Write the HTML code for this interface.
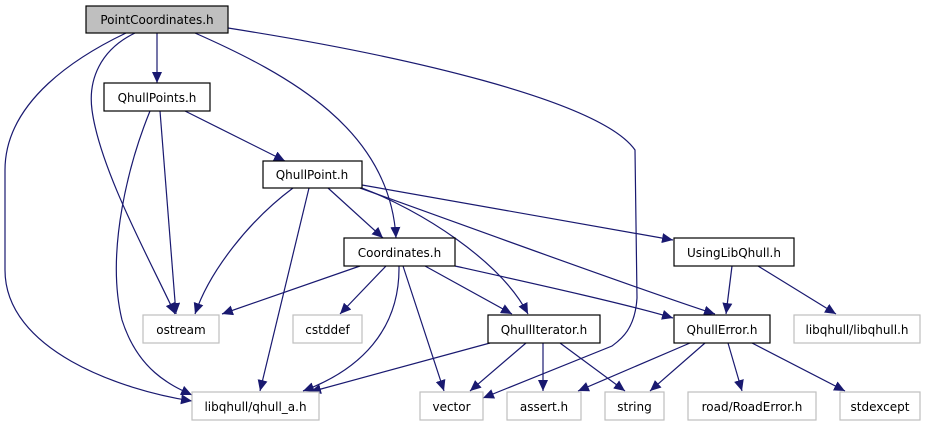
<!DOCTYPE html>
<html><head><meta charset="utf-8"><style>
html,body{margin:0;padding:0;background:#fff;}
svg{display:block;}
text{font-family:"DejaVu Sans","Liberation Sans",sans-serif;font-size:12px;text-anchor:middle;fill:#000;}
.e{fill:none;stroke:#191970;stroke-width:1.2;marker-end:url(#a);}
.b{fill:#fff;stroke:#000;stroke-width:1.2;}
.g{fill:#fff;stroke:#bfbfbf;stroke-width:1.2;}
</style></head><body>
<svg width="931" height="427" viewBox="0 0 931 427" xmlns="http://www.w3.org/2000/svg">
<defs><marker id="a" markerUnits="userSpaceOnUse" markerWidth="12" markerHeight="10" refX="11" refY="5" orient="auto"><path d="M0,0 L11,5 L0,10 Z" fill="#191970"/></marker></defs>
<path class="e" d="M157,33 L157,83"/>
<path class="e" d="M135,33 C100,50 88,80 92,110 C100,170 150,260 175,314"/>
<path class="e" d="M126,33 C80,55 5,100 5,170 L5,270 C5,350 120,390 192,401"/>
<path class="e" d="M195,33 C290,75 390,130 396,238"/>
<path class="e" d="M228,28 C400,55 600,100 635,150 L637,298 C635,330 620,340 612,346 L483,398"/>
<path class="e" d="M160,111 L176,314"/>
<path class="e" d="M150,111 C130,160 105,250 122,320 C138,370 170,385 192,395"/>
<path class="e" d="M185,111 L285,161"/>
<path class="e" d="M293,188 C250,220 210,270 195,314"/>
<path class="e" d="M309,188 L260,391"/>
<path class="e" d="M328,188 L383,238"/>
<path class="e" d="M362,188 C420,210 500,260 528,314"/>
<path class="e" d="M360,188 C450,220 640,290 715,314"/>
<path class="e" d="M362,185 L673,240"/>
<path class="e" d="M360,266 L222,314"/>
<path class="e" d="M386,266 L340,314"/>
<path class="e" d="M399,266 C400,330 360,370 303,391"/>
<path class="e" d="M403,266 L444,391"/>
<path class="e" d="M425,266 L512,314"/>
<path class="e" d="M455,266 C540,285 630,305 673,318"/>
<path class="e" d="M732,266 L726,314"/>
<path class="e" d="M758,266 L836,314"/>
<path class="e" d="M490,343 L310,392"/>
<path class="e" d="M526,343 L470,391"/>
<path class="e" d="M543,343 L543,391"/>
<path class="e" d="M560,343 L625,391"/>
<path class="e" d="M690,343 L578,391"/>
<path class="e" d="M705,343 L650,391"/>
<path class="e" d="M728,343 L742,391"/>
<path class="e" d="M752,343 L845,391"/>

<rect x="86" y="6" width="142" height="27" fill="#bfbfbf" stroke="#000" stroke-width="1.2"/><text x="157" y="24">PointCoordinates.h</text>
<rect class="b" x="104" y="83" width="106" height="28"/><text x="157" y="102">QhullPoints.h</text>
<rect class="b" x="263" y="161" width="99" height="27"/><text x="312" y="179">QhullPoint.h</text>
<rect class="b" x="344" y="238" width="111" height="28"/><text x="399.5" y="257">Coordinates.h</text>
<rect class="b" x="674" y="238" width="120" height="28"/><text x="734" y="257">UsingLibQhull.h</text>
<rect class="b" x="488" y="315" width="112" height="28"/><text x="544" y="334">QhullIterator.h</text>
<rect class="b" x="674" y="315" width="96" height="28"/><text x="722" y="334">QhullError.h</text>
<rect class="g" x="143" y="315" width="76" height="28"/><text x="181" y="334">ostream</text>
<rect class="g" x="293" y="315" width="69" height="28"/><text x="327.5" y="334">cstddef</text>
<rect class="g" x="794" y="315" width="126" height="28"/><text x="857" y="334">libqhull/libqhull.h</text>
<rect class="g" x="192" y="392" width="127" height="28"/><text x="255.5" y="411">libqhull/qhull_a.h</text>
<rect class="g" x="420" y="392" width="63" height="28"/><text x="451.5" y="411">vector</text>
<rect class="g" x="507" y="392" width="74" height="28"/><text x="544" y="411">assert.h</text>
<rect class="g" x="605" y="392" width="59" height="28"/><text x="634.5" y="411">string</text>
<rect class="g" x="688" y="392" width="128" height="28"/><text x="752" y="411">road/RoadError.h</text>
<rect class="g" x="840" y="392" width="80" height="28"/><text x="880" y="411">stdexcept</text>
</svg>
</body></html>
